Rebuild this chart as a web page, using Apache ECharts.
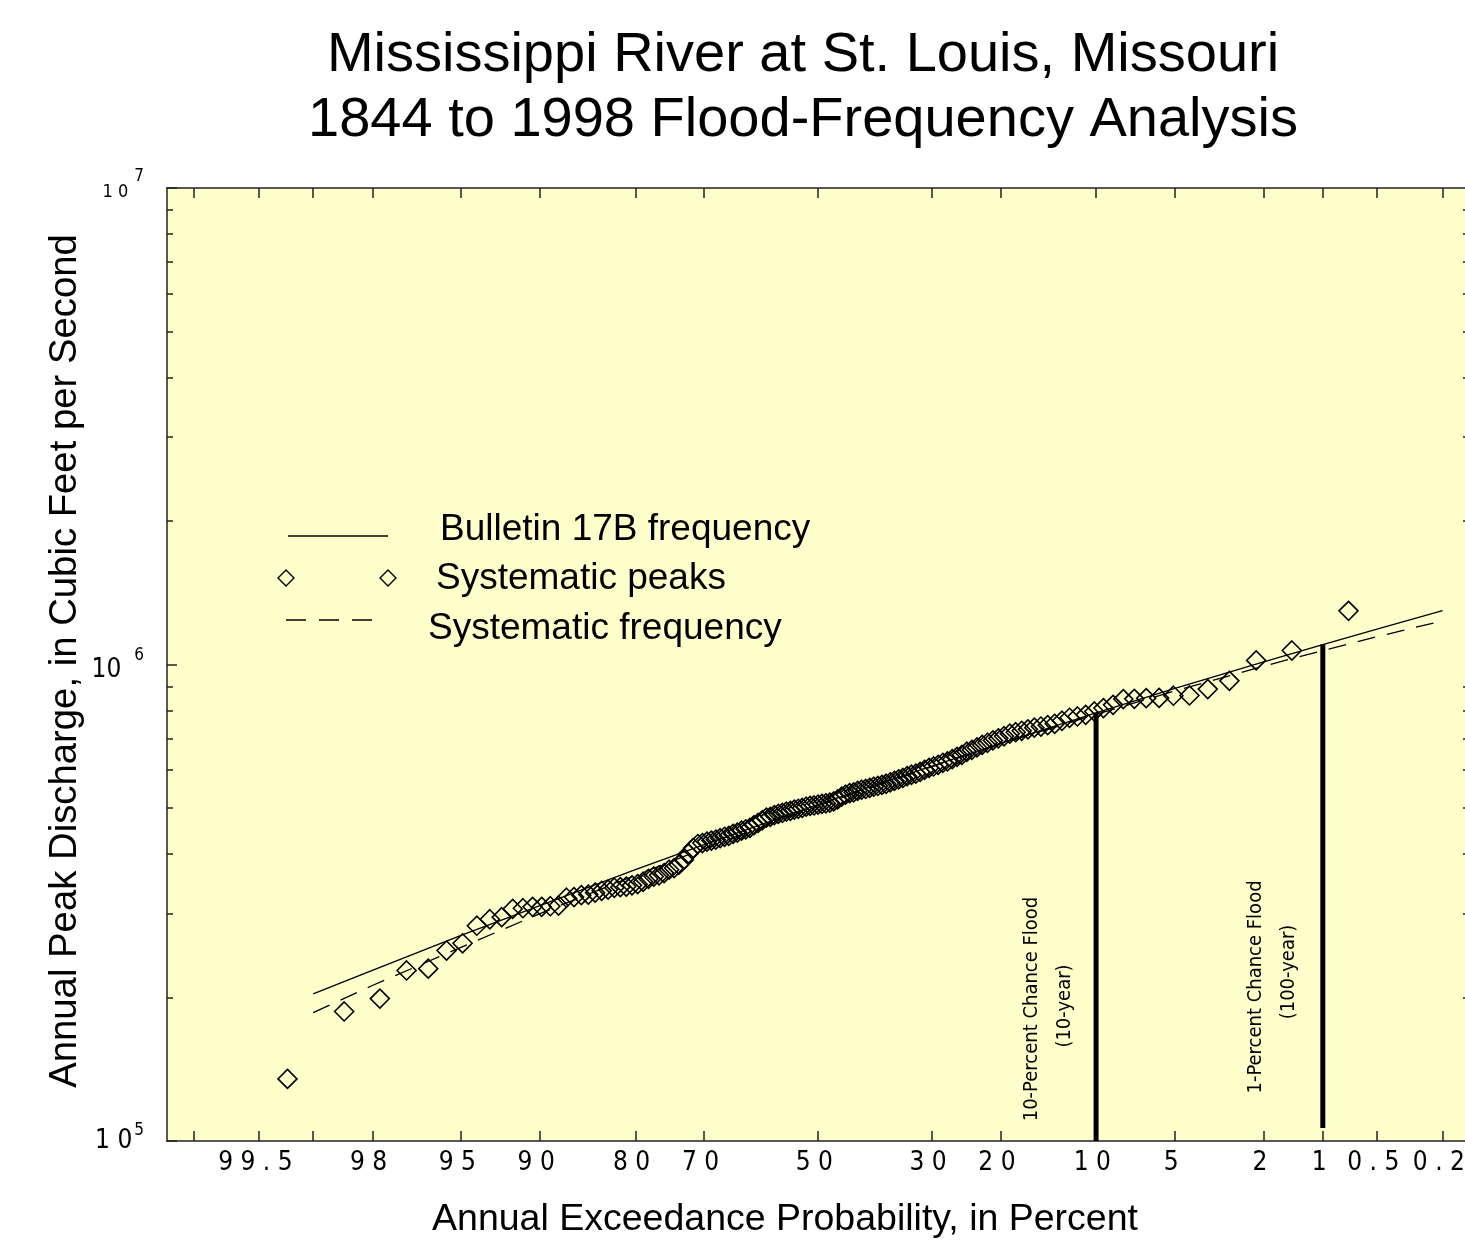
<!DOCTYPE html>
<html><head><meta charset="utf-8">
<script src="https://cdn.jsdelivr.net/npm/echarts@6/dist/echarts.min.js"></script>
<style>html,body{margin:0;padding:0;background:#fff}#c{width:1465px;height:1249px}</style>
</head><body><div id="c"></div>
<script>
// ---------------- data ----------------
const titleLines = ['Mississippi River at St. Louis, Missouri', '1844 to 1998 Flood-Frequency Analysis'];
const xAxisTitle = 'Annual Exceedance Probability, in Percent';
const yAxisTitle = 'Annual Peak Discharge, in Cubic Feet per Second';

// systematic annual peak discharges (cfs), sorted ascending
const systematicPeaks = [
  135000, 187000, 199000, 228000, 230000, 251000, 260000, 283000, 292000, 295000,
  307000, 308000, 310000, 310000, 311000, 312000, 324000, 325000, 328000, 329000,
  332000, 335000, 337000, 340000, 341000, 342000, 344000, 346000, 350000, 355000,
  359000, 361000, 365000, 371000, 374000, 380000, 389000, 401000, 412000, 420000,
  422000, 425000, 427000, 429000, 432000, 435000, 437000, 441000, 444000, 448000,
  451000, 454000, 460000, 465000, 471000, 477000, 479000, 483000, 486000, 488000,
  491000, 493000, 496000, 498000, 500000, 503000, 505000, 506000, 508000, 510000,
  511000, 513000, 516000, 521000, 528000, 533000, 537000, 539000, 543000, 546000,
  548000, 551000, 554000, 556000, 559000, 562000, 566000, 570000, 574000, 578000,
  583000, 587000, 590000, 595000, 601000, 607000, 611000, 616000, 622000, 626000,
  633000, 640000, 646000, 656000, 662000, 670000, 678000, 685000, 693000, 700000,
  707000, 716000, 721000, 726000, 731000, 737000, 741000, 746000, 751000, 762000,
  773000, 778000, 784000, 797000, 810000, 823000, 846000, 847000, 850000, 851000,
  860000, 861000, 888000, 924000, 1020000, 1070000, 1296000
];

// frequency curves: exceedance probability (percent) and discharge (cfs)
const curveProb      = [99, 98, 95, 90, 80, 70, 60, 50, 40, 30, 20, 10, 5, 2, 1, 0.5, 0.2];
const bulletin17B    = [203500, 228000, 270000, 312000, 371000, 419000, 463000, 508000, 557000, 612000, 683000, 792000, 891000, 1013000, 1101000, 1187000, 1297000];
const systematicFreq = [186000, 212000, 255000, 300000, 361000, 411000, 457000, 505000, 553000, 610000, 681000, 786000, 880000, 992000, 1070000, 1144000, 1235000];

// design floods: probability (percent), bottom and top discharge of the bar
const floodProb   = [10, 1];
const floodBottom = [100000, 106500];
const floodTop    = [792000, 1101000];
const floodText   = ['10-Percent Chance Flood', '1-Percent Chance Flood'];
const floodSub    = ['(10-year)', '(100-year)'];

// axis ticks / labels
const tickProb  = [99.8, 99.5, 99, 98, 95, 90, 80, 70, 50, 30, 20, 10, 5, 2, 1, 0.5, 0.2];
const labelProb = [99.5, 98, 95, 90, 80, 70, 50, 30, 20, 10, 5, 2, 1, 0.5, 0.2];
const yDecades  = [5, 6, 7];              // exponents of 10
const yMinorMult = [2, 3, 4, 5, 6, 7, 8, 9];

const legendNames = ['Bulletin 17B frequency', 'Systematic peaks', 'Systematic frequency'];

// ---------------- helpers ----------------
function normInv(p){
  const a=[-3.969683028665376e+01,2.209460984245205e+02,-2.759285104469687e+02,1.383577518672690e+02,-3.066479806614716e+01,2.506628277459239e+00];
  const b=[-5.447609879822406e+01,1.615858368580409e+02,-1.556989798598866e+02,6.680131188771972e+01,-1.328068155288572e+01];
  const c=[-7.784894002430293e-03,-3.223964580411365e-01,-2.400758277161838e+00,-2.549671039208085e+00,4.374664141464968e+00,2.938163982698783e+00];
  const d=[7.784695709041462e-03,3.224671290700398e-01,2.445134137142996e+00,3.754408661907416e+00];
  const pl=0.02425, ph=1-pl; let q,r;
  if(p<pl){q=Math.sqrt(-2*Math.log(p));return (((((c[0]*q+c[1])*q+c[2])*q+c[3])*q+c[4])*q+c[5])/((((d[0]*q+d[1])*q+d[2])*q+d[3])*q+1);}
  if(p>ph){q=Math.sqrt(-2*Math.log(1-p));return -(((((c[0]*q+c[1])*q+c[2])*q+c[3])*q+c[4])*q+c[5])/((((d[0]*q+d[1])*q+d[2])*q+d[3])*q+1);}
  q=p-0.5;r=q*q;return (((((a[0]*r+a[1])*r+a[2])*r+a[3])*r+a[4])*r+a[5])*q/(((((b[0]*r+b[1])*r+b[2])*r+b[3])*r+b[4])*r+1);
}
const zOf = pct => normInv(1 - pct / 100);   // probability-paper coordinate
const lg = q => Math.log10(q);

const N = systematicPeaks.length;
// Weibull plotting positions
const peakData = systematicPeaks.map((q, i) => [normInv((i + 1) / (N + 1)), lg(q)]);
const b17Data = curveProb.map((p, i) => [zOf(p), lg(bulletin17B[i])]);
const sysData = curveProb.map((p, i) => [zOf(p), lg(systematicFreq[i])]);

const NARROW = "'Liberation Sans Narrow','DejaVu Sans Condensed','Arial Narrow',sans-serif";
const SANS = "'Liberation Sans',Arial,Helvetica,sans-serif";
const INK = '#000';

const yMinor = [];
yDecades.slice(0, -1).forEach(e => yMinorMult.forEach(m => yMinor.push(e + Math.log10(m))));

function xLabel(v){
  let best = labelProb[0], bd = 1e9;
  labelProb.forEach(p => { const d = Math.abs(zOf(p) - v); if (d < bd){ bd = d; best = p; } });
  return String(best).split('').join(' ') + ' ';
}
function yLabel(v){
  const e = Math.round(v);
  if (e === 6) return '{n|10}{s6|' + e + '}';
  if (e === 7) return '{t|1 0}{s7|' + e + '}';
  return '{b|1 0}{s|' + e + '}';
}

const axisLineStyle = { color: '#222', width: 1.5 };

const floodSeries = floodProb.map((p, i) => ({
  type: 'line', name: floodText[i], silent: true, showSymbol: false, symbol: 'none',
  data: [[zOf(p), lg(floodBottom[i])], [zOf(p), lg(floodTop[i])]],
  lineStyle: { color: '#000', width: 5 }, z: 3
}));

const chart = echarts.init(document.getElementById('c'), null, { renderer: 'canvas' });
chart.setOption({
  animation: false,
  backgroundColor: '#ffffff',
  grid: { left: 167, top: 188, width: 1302, height: 953, show: true, backgroundColor: '#FFFFCC', borderWidth: 0,
          containLabel: false, outerBoundsMode: 'none' },
  xAxis: [
    { type: 'value', min: -3, max: 3, position: 'bottom',
      axisLine: { show: true, onZero: false, lineStyle: axisLineStyle },
      axisTick: { show: true, inside: true, length: 10, customValues: tickProb.map(zOf), lineStyle: axisLineStyle },
      axisLabel: { show: true, customValues: labelProb.map(zOf), formatter: xLabel, fontFamily: NARROW, fontSize: 26, color: INK, margin: 9 },
      splitLine: { show: false } },
    { type: 'value', min: -3, max: 3, position: 'top',
      axisLine: { show: true, onZero: false, lineStyle: axisLineStyle },
      axisTick: { show: true, inside: true, length: 10, customValues: tickProb.map(zOf), lineStyle: axisLineStyle },
      axisLabel: { show: false }, splitLine: { show: false } }
  ],
  yAxis: [
    { type: 'value', min: 5, max: 7, position: 'left',
      axisLine: { show: true, onZero: false, lineStyle: axisLineStyle },
      axisTick: { show: true, inside: true, length: 10, customValues: yDecades, lineStyle: axisLineStyle },
      axisLabel: { show: true, customValues: yDecades, formatter: yLabel, margin: 23, color: INK,
        rich: {
          b:  { fontFamily: NARROW, fontSize: 26, color: INK },
          n:  { fontFamily: NARROW, fontSize: 26, color: INK, padding: [12, 0, 0, 0] },
          t:  { fontFamily: NARROW, fontSize: 18, color: INK, padding: [8, 0, 0, 0] },
          s:  { fontFamily: NARROW, fontSize: 17, color: INK, padding: [0, 0, 20, 2] },
          s6: { fontFamily: NARROW, fontSize: 17, color: INK, padding: [0, 0, 18, 13] },
          s7: { fontFamily: NARROW, fontSize: 17, color: INK, padding: [0, 0, 22, 6] }
        } },
      splitLine: { show: false } },
    { type: 'value', min: 5, max: 7, position: 'left',
      axisLine: { show: false, onZero: false },
      axisTick: { show: true, inside: true, length: 6, customValues: yMinor, lineStyle: axisLineStyle },
      axisLabel: { show: false }, splitLine: { show: false } },
    { type: 'value', min: 5, max: 7, position: 'right',
      axisLine: { show: true, onZero: false, lineStyle: axisLineStyle },
      axisTick: { show: true, inside: true, length: 6, customValues: yMinor, lineStyle: axisLineStyle },
      axisLabel: { show: false }, splitLine: { show: false } }
  ],
  series: [
    { type: 'line', name: legendNames[0], data: b17Data, showSymbol: false, symbol: 'none',
      lineStyle: { color: '#000', width: 1.3 }, z: 4 },
    { type: 'line', name: legendNames[2], data: sysData, showSymbol: false, symbol: 'none',
      lineStyle: { color: '#000', width: 1.3, type: [18, 12] }, z: 4 },
    { type: 'scatter', name: legendNames[1], data: peakData, symbol: 'diamond', symbolSize: 19,
      itemStyle: { color: 'rgba(0,0,0,0)', borderColor: '#000', borderWidth: 1.6, opacity: 1 }, z: 5 },
    ...floodSeries
  ],
  graphic: [
    { type: 'text', x: 803, y: 56, style: { text: titleLines[0], font: '56px ' + SANS, fill: '#000', align: 'center', verticalAlign: 'middle' } },
    { type: 'text', x: 803, y: 121, style: { text: titleLines[1], font: '56px ' + SANS, fill: '#000', align: 'center', verticalAlign: 'middle' } },
    { type: 'text', x: 785, y: 1220, style: { text: xAxisTitle, font: '37.5px ' + SANS, fill: '#000', align: 'center', verticalAlign: 'middle' } },
    { type: 'text', x: 65, y: 661, rotation: Math.PI / 2, style: { text: yAxisTitle, font: '38.3px ' + SANS, fill: '#000', align: 'center', verticalAlign: 'middle' } },
    // legend
    { type: 'line', shape: { x1: 288, y1: 536, x2: 388, y2: 536 }, style: { stroke: '#000', lineWidth: 1.3 } },
    { type: 'text', x: 440, y: 530, style: { text: legendNames[0], font: '37px ' + SANS, fill: '#000', align: 'left', verticalAlign: 'middle' } },
    { type: 'polygon', shape: { points: [[286, 570], [294, 578], [286, 586], [278, 578]] }, style: { fill: 'none', stroke: '#000', lineWidth: 1.4 } },
    { type: 'polygon', shape: { points: [[388, 570], [396, 578], [388, 586], [380, 578]] }, style: { fill: 'none', stroke: '#000', lineWidth: 1.4 } },
    { type: 'text', x: 436, y: 579, style: { text: legendNames[1], font: '37px ' + SANS, fill: '#000', align: 'left', verticalAlign: 'middle' } },
    { type: 'line', shape: { x1: 286, y1: 620, x2: 381, y2: 620 }, style: { stroke: '#000', lineWidth: 1.3, lineDash: [20, 13] } },
    { type: 'text', x: 428, y: 629, style: { text: legendNames[2], font: '37px ' + SANS, fill: '#000', align: 'left', verticalAlign: 'middle' } },
    // design-flood captions
    { type: 'text', x: 1032, y: 1009, rotation: Math.PI / 2, style: { text: floodText[0], font: '20px ' + NARROW, fill: '#000', align: 'center', verticalAlign: 'middle' } },
    { type: 'text', x: 1065, y: 1006, rotation: Math.PI / 2, style: { text: floodSub[0], font: '20px ' + NARROW, fill: '#000', align: 'center', verticalAlign: 'middle' } },
    { type: 'text', x: 1256, y: 987, rotation: Math.PI / 2, style: { text: floodText[1], font: '20px ' + NARROW, fill: '#000', align: 'center', verticalAlign: 'middle' } },
    { type: 'text', x: 1289, y: 972, rotation: Math.PI / 2, style: { text: floodSub[1], font: '20px ' + NARROW, fill: '#000', align: 'center', verticalAlign: 'middle' } }
  ]
});
</script>
</body></html>
